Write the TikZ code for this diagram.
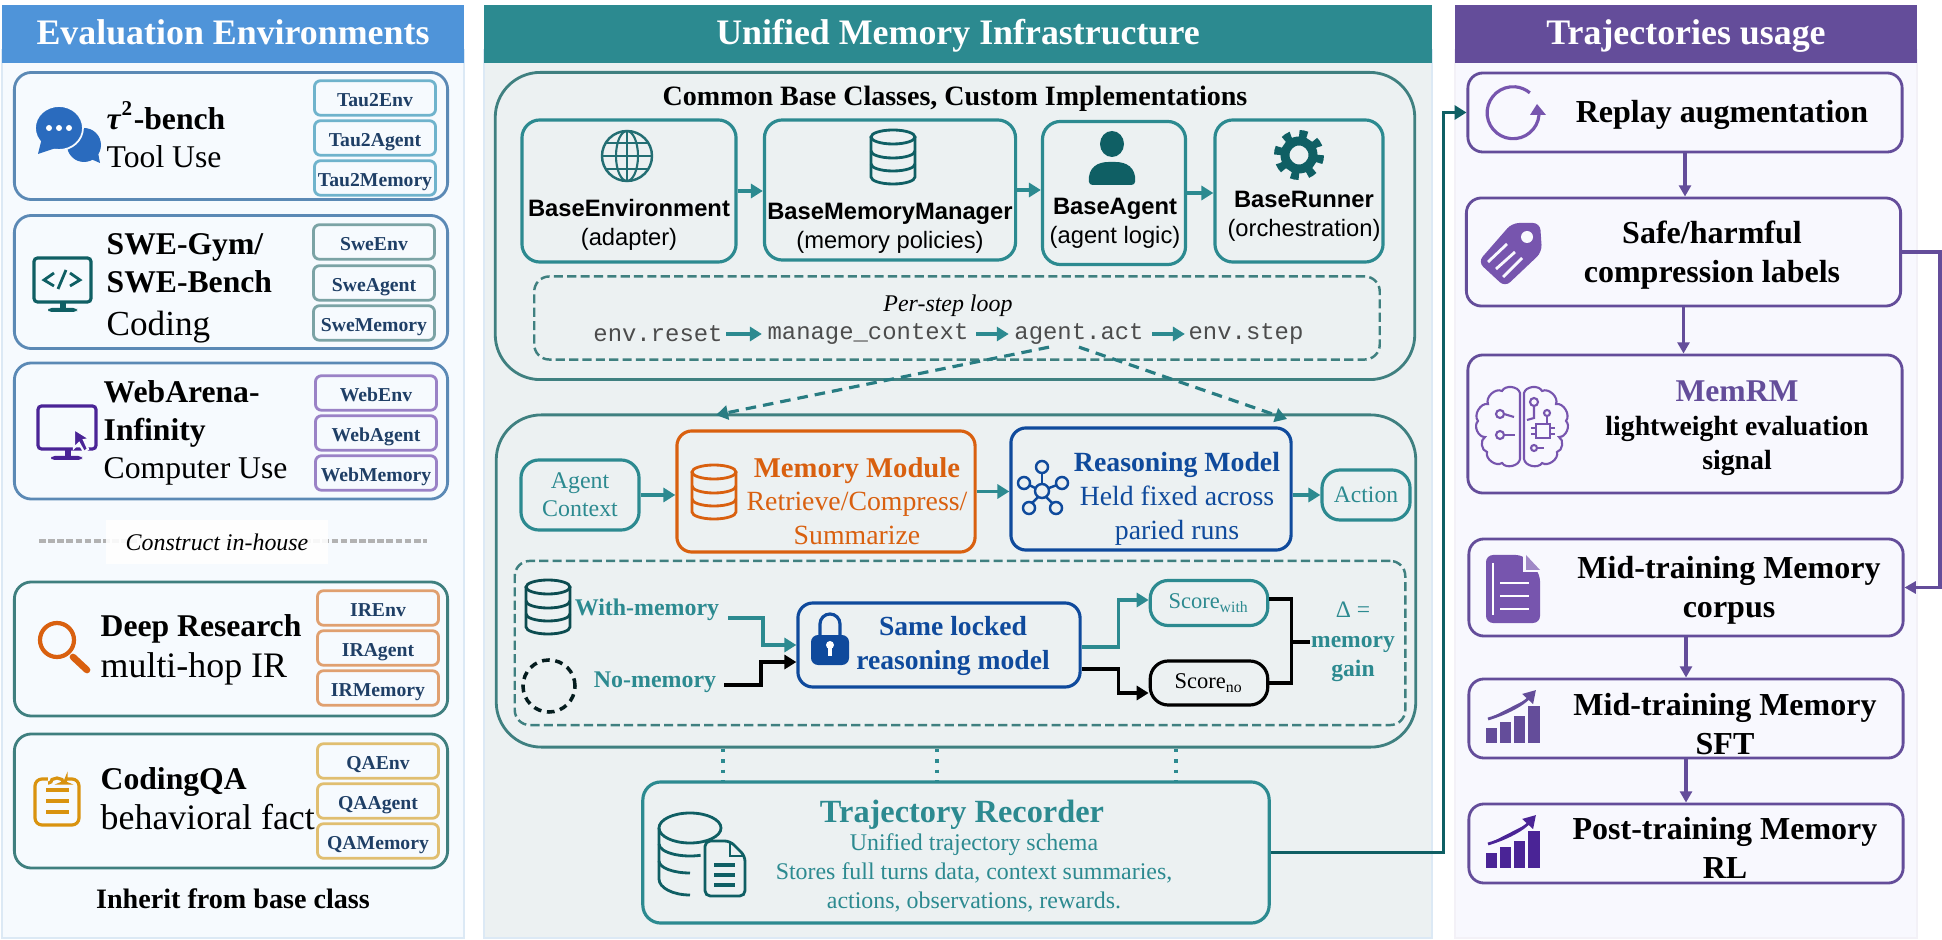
\documentclass[tikz,border=0pt]{standalone}
\usepackage{fontspec}
\setmainfont{Liberation Serif}
\setsansfont{Liberation Sans}
\setmonofont{Liberation Mono}
\usetikzlibrary{arrows.meta}
\newcommand{\pxfont}[2]{\fontsize{#1}{#2}\selectfont}
\definecolor{leftblue}{RGB}{79,148,217}
\definecolor{leftbg}{RGB}{246,250,254}
\definecolor{leftline}{RGB}{220,233,245}
\definecolor{cardblue}{RGB}{91,137,181}
\definecolor{cardgreen}{RGB}{63,127,127}
\definecolor{midteal}{RGB}{44,138,144}
\definecolor{midbg}{RGB}{236,241,242}
\definecolor{boxteal}{RGB}{63,128,128}
\definecolor{darkteal}{RGB}{15,95,100}
\definecolor{rightpurple}{RGB}{100,77,154}
\definecolor{rightbg}{RGB}{248,248,254}
\definecolor{iconpurple}{RGB}{119,85,174}
\definecolor{deeppurple}{RGB}{74,36,150}
\definecolor{memorange}{RGB}{217,96,15}
\definecolor{modelblue}{RGB}{15,74,156}
\definecolor{navytext}{RGB}{31,63,102}
\definecolor{tauline}{RGB}{111,179,204}
\definecolor{sweline}{RGB}{123,163,165}
\definecolor{webline}{RGB}{154,130,198}
\definecolor{irline}{RGB}{224,160,112}
\definecolor{qaline}{RGB}{224,190,112}
\definecolor{clipgold}{RGB}{217,147,15}
\definecolor{chatblue}{RGB}{42,107,190}
\tikzstyle{panel} = [rectangle, line width=0.6pt, inner sep=0pt]
\tikzstyle{header} = [rectangle, inner sep=0pt, text=white, text height=0.25cm, text depth=0.03cm, font=\pxfont{10.2}{12}\bfseries]
\tikzstyle{card} = [rectangle, rounded corners=0.17cm, line width=0.8pt, fill=leftbg, inner sep=0pt, minimum width=4.33cm]
\tikzstyle{cardtext} = [anchor=west, align=left, inner sep=0pt, font=\pxfont{9}{10.8}]
\tikzstyle{smallbox} = [rectangle, rounded corners=0.06cm, line width=0.8pt, fill=leftbg, inner sep=0pt, minimum width=1.21cm, minimum height=0.345cm, text height=0.2cm, text depth=0.03cm, text=navytext, font=\pxfont{5.6}{7}\bfseries]
\tikzstyle{bigbox} = [rectangle, rounded corners=0.45cm, line width=0.8pt, draw=boxteal, inner sep=0pt]
\tikzstyle{basebox} = [rectangle, rounded corners=0.18cm, line width=0.9pt, draw=midteal, inner sep=0pt]
\tikzstyle{loopbox} = [rectangle, rounded corners=0.15cm, line width=0.7pt, draw=boxteal, dash pattern=on 2.6pt off 1.2pt, inner sep=0pt]
\tikzstyle{basetext} = [inner sep=0pt, align=center, font=\sffamily\pxfont{6.75}{8.3}]
\tikzstyle{modelbox} = [rectangle, rounded corners=0.15cm, line width=0.9pt, inner sep=0pt]
\tikzstyle{plain} = [inner sep=0pt, align=center]
\tikzstyle{usebox} = [rectangle, rounded corners=0.15cm, line width=0.8pt, draw=rightpurple, fill=rightbg, inner sep=0pt, minimum width=4.34cm]
\tikzstyle{usetext} = [inner sep=0pt, align=center, font=\pxfont{9.1}{11.2}\bfseries]
\tikzstyle{tealarrow} = [line width=1pt, color=midteal, -{Triangle[length=3.4pt,width=4pt]}]
\tikzstyle{blackarrow} = [line width=1pt, color=black, -{Triangle[length=3.4pt,width=4pt]}]
\tikzstyle{purplearrow} = [line width=0.9pt, color=rightpurple, -{Triangle[length=3.2pt,width=3.4pt]}]
\tikzstyle{dasharrow} = [line width=0.9pt, color=midteal!90!black, dash pattern=on 3pt off 2pt, -{Triangle[length=3.4pt,width=4pt]}]
\tikzstyle{dotline} = [line width=1pt, color=midteal, dotted]
\tikzset{
  dbicon/.pic={
    \draw[pic actions] (0,-20) ellipse (22 and 7);
    \draw[pic actions] (-22,-20) -- (-22,20) arc[start angle=180,end angle=0,x radius=22,y radius=7] -- (22,-20);
    \draw[pic actions] (-22,-6) arc[start angle=180,end angle=0,x radius=22,y radius=7];
    \draw[pic actions] (-22,7) arc[start angle=180,end angle=0,x radius=22,y radius=7];
  },
  chartup/.pic={
    \fill[pic actions] (-26,26) rectangle (-17,13);
    \fill[pic actions] (-12,26) rectangle (-3,7);
    \fill[pic actions] (2,26) rectangle (11,1);
    \fill[pic actions] (16,26) rectangle (26,-9);
    \draw[pic actions, line width=0.8pt, -{Triangle[length=3.5pt,width=4pt]}] (-25,3) .. controls (-5,-3) and (10,-12) .. (23,-26);
  },
  chaticon/.pic={
    \fill[chatblue] (16,15) circle (17);
    \fill[chatblue] (32,33) -- (16,26) -- (28,12) -- cycle;
    \fill[chatblue, draw=leftbg, line width=0.5pt] (-9,-2) ellipse (24 and 22);
    \fill[chatblue] (-30,24) -- (-26,8) -- (-12,18) -- cycle;
    \fill[white] (-19,-2) circle (3);
    \fill[white] (-9,-2) circle (3);
    \fill[white] (1,-2) circle (3);
  },
  codemonitor/.pic={
    \draw[darkteal, line width=0.9pt, rounded corners=1pt] (-28,-21) rectangle (29,23);
    \fill[darkteal] (-2,23) rectangle (4,31);
    \fill[darkteal, rounded corners=1pt] (-14,29) rectangle (15,33);
    \draw[darkteal, line width=0.8pt] (-8,-6) -- (-18,1) -- (-8,7);
    \draw[darkteal, line width=0.8pt] (4,-9) -- (-4,10);
    \draw[darkteal, line width=0.8pt] (8,-6) -- (18,1) -- (8,7);
  },
  cursormonitor/.pic={
    \draw[deeppurple, line width=0.9pt, rounded corners=1pt] (-29,-21) rectangle (29,22);
    \fill[deeppurple] (-2,22) rectangle (4,30);
    \fill[deeppurple, rounded corners=1pt] (-16,29) rectangle (15,33);
    \fill[deeppurple, draw=leftbg, line width=0.6pt] (7,2) -- (7,21) -- (12,16) -- (17,25) -- (21,22) -- (17,13) -- (23,12) -- cycle;
  },
  lensicon/.pic={
    \draw[memorange, line width=1.2pt] (-4,-6) circle (17);
    \draw[memorange, line width=1.9pt, line cap=round] (12,11) -- (26,24);
  },
  clipicon/.pic={
    \draw[clipgold, line width=0.9pt, rounded corners=2pt] (-22,-19) rectangle (22,27);
    \fill[leftbg] (-9,-21) rectangle (9,-14);
    \draw[clipgold, line width=0.9pt, rounded corners=1pt] (-9,-15) -- (-5,-15) arc[start angle=180,end angle=360,radius=5] -- (9,-15) -- (9,-18);
    \draw[clipgold, line width=0.9pt] (-11,-8) -- (12,-8);
    \draw[clipgold, line width=0.9pt] (-11,3) -- (12,3);
    \draw[clipgold, line width=0.9pt] (-11,14) -- (12,14);
  },
  globeicon/.pic={
    \draw[midteal!80!black, line width=0.7pt] (0,0) circle (25);
    \draw[midteal!80!black, line width=0.6pt] (0,0) ellipse (11 and 25);
    \draw[midteal!80!black, line width=0.6pt] (0,-25) -- (0,25);
    \draw[midteal!80!black, line width=0.6pt] (-25,0) -- (25,0);
    \draw[midteal!80!black, line width=0.6pt] (-21,-13) -- (21,-13);
    \draw[midteal!80!black, line width=0.6pt] (-21,13) -- (21,13);
  },
  personicon/.pic={
    \fill[darkteal] (0,-15) ellipse (12 and 13);
    \fill[darkteal, rounded corners=1pt] (-23,26) .. controls (-24,8) and (-14,3) .. (0,3) .. controls (14,3) and (24,8) .. (23,26) -- cycle;
  },
  gearicon/.pic={
    \draw[darkteal, line width=0.08cm, dash pattern=on 0.08cm off 0.085cm] (0,0) circle (21);
    \draw[darkteal, line width=0.09cm] (0,0) circle (14);
  },
  netwicon/.pic={
    \draw[modelblue, line width=0.7pt] (0,0) circle (7);
    \draw[modelblue, line width=0.7pt] (0,-24) circle (6);
    \draw[modelblue, line width=0.7pt] (-18,-8) circle (6);
    \draw[modelblue, line width=0.7pt] (20,-8) circle (6);
    \draw[modelblue, line width=0.7pt] (-13,17) circle (6);
    \draw[modelblue, line width=0.7pt] (14,17) circle (6);
    \draw[modelblue, line width=0.7pt] (0,-7) -- (0,-18);
    \draw[modelblue, line width=0.7pt] (-7,-3) -- (-13,-6);
    \draw[modelblue, line width=0.7pt] (7,-3) -- (15,-6);
    \draw[modelblue, line width=0.7pt] (-4,6) -- (-10,12);
    \draw[modelblue, line width=0.7pt] (4,6) -- (10,12);
  },
  lockicon/.pic={
    \draw[modelblue, line width=0.9pt] (-10,-3) -- (-10,-16) arc[start angle=180,end angle=360,radius=10] -- (10,-3);
    \fill[modelblue, rounded corners=2pt] (-19,-5) rectangle (19,25);
    \fill[white] (0,5) circle (4);
    \fill[white] (-2,5) rectangle (2,16);
  },
  recicon/.pic={
    \draw[darkteal, line width=0.8pt] (0,-26) ellipse (31 and 15);
    \draw[darkteal, line width=0.8pt] (-31,-26) -- (-31,25) arc[start angle=180,end angle=90,x radius=31,y radius=16];
    \draw[darkteal, line width=0.8pt] (-31,-10) arc[start angle=180,end angle=70,x radius=31,y radius=12];
    \draw[darkteal, line width=0.8pt] (-31,7) arc[start angle=180,end angle=90,x radius=31,y radius=12];
    \fill[midbg, draw=darkteal, line width=0.8pt, rounded corners=1.5pt] (15,-13) -- (40,-13) -- (55,2) -- (55,42) -- (15,42) -- cycle;
    \draw[darkteal, line width=0.7pt] (40,-13) -- (40,2) -- (55,2);
    \draw[darkteal, line width=1pt] (24,11) -- (45,11);
    \draw[darkteal, line width=1pt] (24,21) -- (45,21);
    \draw[darkteal, line width=1pt] (24,31) -- (45,31);
  },
  replayicon/.pic={
    \draw[iconpurple, line width=0.9pt] (24,2) arc[start angle=5,end angle=310,radius=26];
    \fill[iconpurple] (15,2) -- (31,2) -- (22,-9) -- cycle;
  },
  tagicon/.pic={
    \fill[iconpurple, rounded corners=2pt] (-32,9) -- (-5,34) -- (32,-1) -- (30,-30) -- (2,-30) -- cycle;
    \fill[rightbg] (17,-16) circle (6);
    \draw[rightbg, line width=0.8pt] (-22,9) -- (-3,-9);
    \draw[rightbg, line width=0.8pt] (-14,16) -- (5,-1);
    \draw[rightbg, line width=0.8pt] (-7,24) -- (12,5);
  },
  brainicon/.pic={
    \draw[iconpurple, line width=0.6pt] (-2,-33) to[bend right=70] (-20,-35) to[bend right=70] (-34,-22) to[bend right=70] (-44,-5) to[bend right=70] (-37,11) to[bend right=70] (-35,26) to[bend right=70] (-20,37) to[bend right=70] (-2,33) -- cycle;
    \draw[iconpurple, line width=0.6pt] (2,-33) to[bend left=70] (20,-35) to[bend left=70] (34,-22) to[bend left=70] (44,-5) to[bend left=70] (37,11) to[bend left=70] (35,26) to[bend left=70] (20,37) to[bend left=70] (2,33) -- cycle;
    \draw[iconpurple, line width=0.6pt] (-22,-12) circle (4);
    \draw[iconpurple, line width=0.6pt] (-18,-12) -- (-8,-9);
    \draw[iconpurple, line width=0.6pt] (-22,9) circle (4);
    \draw[iconpurple, line width=0.6pt] (-18,9) -- (-7,9);
    \draw[iconpurple, line width=0.6pt] (12,-24) circle (4);
    \draw[iconpurple, line width=0.6pt] (12,-20) -- (12,-8) -- (5,-6);
    \draw[iconpurple, line width=0.6pt] (25,-13) circle (3);
    \draw[iconpurple, line width=0.6pt] (25,-10) -- (25,-3);
    \draw[iconpurple, line width=0.6pt] (14,-2) rectangle (28,12);
    \draw[iconpurple, line width=0.6pt] (9,2) -- (14,2);
    \draw[iconpurple, line width=0.6pt] (9,8) -- (14,8);
    \draw[iconpurple, line width=0.6pt] (28,2) -- (33,2);
    \draw[iconpurple, line width=0.6pt] (28,8) -- (33,8);
    \draw[iconpurple, line width=0.6pt] (12,22) circle (3);
    \draw[iconpurple, line width=0.6pt] (15,22) -- (22,22);
  },
  docicon/.pic={
    \fill[iconpurple, rounded corners=2pt] (-27,-34) -- (10,-34) -- (27,-15) -- (27,34) -- (-27,34) -- cycle;
    \fill[rightbg] (10,-35) -- (10,-17) -- (28,-17) -- (28,-35) -- cycle;
    \fill[iconpurple!70] (13,-34) -- (13,-19) -- (27,-19) -- cycle;
    \draw[white, line width=0.6pt] (-20,-26) -- (-20,26);
    \draw[white, line width=0.7pt] (-13,-6) -- (16,-6);
    \draw[white, line width=0.7pt] (-13,7) -- (16,7);
    \draw[white, line width=0.7pt] (-13,20) -- (16,20);
  }
}
\begin{document}
\begin{tikzpicture}[x=0.01cm, y=-0.01cm]
\useasboundingbox (0,0) rectangle (1942,940);

% Panels
\node[panel, draw=leftline, fill=leftbg, minimum width=4.62cm, minimum height=8.88cm] (left_panel) at (233,494) {};
\node[panel, draw=leftline, fill=midbg, minimum width=9.48cm, minimum height=8.88cm] (mid_panel) at (958,494) {};
\node[panel, draw=rightpurple!8, fill=rightbg, minimum width=4.62cm, minimum height=8.88cm] (right_panel) at (1686,494) {};
\node[header, fill=leftblue, minimum width=4.62cm, minimum height=0.58cm] (left_head) at (233,34) {Evaluation Environments};
\node[header, fill=midteal, minimum width=9.48cm, minimum height=0.58cm] (mid_head) at (958,34) {Unified Memory Infrastructure};
\node[header, fill=rightpurple, minimum width=4.62cm, minimum height=0.58cm] (right_head) at (1686,34) {Trajectories usage};

% Evaluation cards
\node[card, draw=cardblue, minimum height=1.27cm] (tau_card) at (231,136) {};
\pic at (68,130) {chaticon};
\node[cardtext] (tau_text) at (106,134.5) {\textbf{\textit{τ}\textsuperscript{2}-bench}\\Tool Use};
\node[smallbox, draw=tauline] (tau_env) at (375,98) {Tau2Env};
\node[smallbox, draw=tauline] (tau_agent) at (375,138) {Tau2Agent};
\node[smallbox, draw=tauline] (tau_mem) at (375,178) {Tau2Memory};

\node[card, draw=cardblue, minimum height=1.33cm] (swe_card) at (231,282) {};
\pic at (62,279) {codemonitor};
\node[cardtext] (swe_text) at (106,288) {\textbf{SWE-Gym/}\\\textbf{SWE-Bench}\\[1.4pt]{\pxfont{10}{10.8}Coding}};
\node[smallbox, draw=sweline] (swe_env) at (374,242) {SweEnv};
\node[smallbox, draw=sweline] (swe_agent) at (374,283) {SweAgent};
\node[smallbox, draw=sweline] (swe_mem) at (374,323) {SweMemory};

\node[card, draw=cardblue, minimum height=1.36cm] (web_card) at (231,431) {};
\pic at (67,427) {cursormonitor};
\node[cardtext] (web_text) at (103,433) {\textbf{WebArena-}\\\textbf{Infinity}\\Computer Use};
\node[smallbox, draw=webline] (web_env) at (376,393) {WebEnv};
\node[smallbox, draw=webline] (web_agent) at (376,433) {WebAgent};
\node[smallbox, draw=webline] (web_mem) at (376,473) {WebMemory};

% Construct in-house divider
\coordinate (div_left) at (39,541);
\coordinate (div_right) at (427,541);
\draw[line width=0.9pt, color=black!30, dash pattern=on 1.9pt off 0.7pt] (div_left) -- (div_right);
\node[plain, fill=white, fill opacity=0.9, text opacity=1, minimum width=2.21cm, minimum height=0.44cm, font=\pxfont{6.8}{8}\itshape] (div_text) at (217,542) {Construct in-house};

\node[card, draw=cardgreen, minimum height=1.34cm] (ir_card) at (231,649) {};
\pic at (61,646) {lensicon};
\node[cardtext] (ir_text) at (100,650) {\textbf{Deep Research}\\[0.8pt]{\pxfont{10.2}{10.8}multi-hop IR}};
\node[smallbox, draw=irline] (ir_env) at (378,608) {IREnv};
\node[smallbox, draw=irline] (ir_agent) at (378,648) {IRAgent};
\node[smallbox, draw=irline] (ir_mem) at (378,688) {IRMemory};

\node[card, draw=cardgreen, minimum height=1.34cm] (qa_card) at (231,801) {};
\pic at (57,798) {clipicon};
\node[cardtext] (qa_text) at (100,799) {\textbf{CodingQA}\\[0.6pt]{\pxfont{10.2}{10.8}behavioral fact}};
\node[smallbox, draw=qaline] (qa_env) at (378,761) {QAEnv};
\node[smallbox, draw=qaline] (qa_agent) at (378,801) {QAAgent};
\node[smallbox, draw=qaline] (qa_mem) at (378,841) {QAMemory};

\node[plain, font=\pxfont{8}{10}\bfseries] (inherit_text) at (233,899) {Inherit from base class};

% Base classes
\node[bigbox, minimum width=9.19cm, minimum height=3.07cm] (base_box) at (955,226) {};
\node[plain, font=\pxfont{7.97}{10}\bfseries] (base_title) at (955,99) {Common Base Classes, Custom Implementations};
\node[basebox, minimum width=2.14cm, minimum height=1.42cm] (env_base) at (629,191) {};
\pic at (627,156) {globeicon};
\node[basetext] (env_text) at (629,225) {\textbf{BaseEnvironment}\\(adapter)};
\node[basebox, minimum width=2.51cm, minimum height=1.40cm] (mem_base) at (890,190) {};
\pic[draw=darkteal, line width=0.8pt] at (893,157) {dbicon};
\node[basetext] (mem_text) at (890,228) {\textbf{BaseMemoryManager}\\(memory policies)};
\node[basebox, minimum width=1.43cm, minimum height=1.43cm] (agent_base) at (1114,193) {};
\pic at (1112,159) {personicon};
\node[basetext] (agent_text) at (1115,223) {\textbf{BaseAgent}\\(agent logic)};
\node[basebox, minimum width=1.68cm, minimum height=1.42cm] (runner_base) at (1299,191) {};
\pic at (1299,155) {gearicon};
\node[basetext] (runner_text) at (1304,216) {\textbf{BaseRunner}\\(orchestration)};

\draw[tealarrow] (env_base.east) -- (mem_base.west |- env_base.east);
\draw[tealarrow] (mem_base.east) -- (agent_base.west |- mem_base.east);
\draw[tealarrow] (agent_base.east) -- (runner_base.west |- agent_base.east);

% Per-step loop
\node[loopbox, minimum width=8.45cm, minimum height=0.83cm] (loop_box) at (957,318) {};
\node[plain, font=\pxfont{6.8}{8}\itshape] (loop_title) at (948,306) {Per-step loop};
\node[plain, font=\ttfamily\pxfont{6.8}{8}, text=black!70] (loop_reset) at (658,334) {env.reset};
\node[plain, font=\ttfamily\pxfont{6.8}{8}, text=black!70] (loop_manage) at (868,334) {manage\_context};
\node[plain, font=\ttfamily\pxfont{6.8}{8}, text=black!70] (loop_act) at (1079,334) {agent.act};
\node[plain, font=\ttfamily\pxfont{6.8}{8}, text=black!70] (loop_step) at (1246,334) {env.step};
\draw[tealarrow] ([xshift=0.03cm]loop_reset.east) -- ([xshift=-0.05cm]loop_manage.west);
\draw[tealarrow] ([xshift=0.07cm]loop_manage.east) -- ([xshift=-0.05cm]loop_act.west);
\draw[tealarrow] ([xshift=0.08cm]loop_act.east) -- ([xshift=-0.03cm]loop_step.west);

% Paired runs
\node[bigbox, minimum width=9.19cm, minimum height=3.32cm] (pair_box) at (956,581) {};
\coordinate (pair_left) at (716,415);
\coordinate (pair_right) at (1287,419);
\draw[dasharrow] ([xshift=-0.3cm,yshift=-0.02cm]loop_act.south) -- (pair_left);
\draw[dasharrow] ([yshift=-0.02cm]loop_act.south) -- (pair_right);

\node[basebox, minimum width=1.18cm, minimum height=0.70cm, text=midteal, align=center, font=\pxfont{6.8}{8}] (agent_ctx) at (580,495) {Agent\\Context};
\node[modelbox, draw=memorange, minimum width=2.98cm, minimum height=1.21cm] (mem_module) at (826,491.5) {};
\pic[draw=memorange, line width=0.8pt] at (714,492) {dbicon};
\node[plain, text=memorange, font=\pxfont{7.9}{9.6}] (mem_text2) at (857,501) {{\pxfont{8.15}{9.6}\bfseries Memory Module}\\Retrieve/Compress/\\Summarize};
\node[modelbox, draw=modelblue, minimum width=2.80cm, minimum height=1.22cm] (reason_model) at (1151,489) {};
\pic at (1042,491) {netwicon};
\node[plain, text=modelblue, font=\pxfont{7.9}{9.6}] (reason_text) at (1177,499) {\textbf{Reasoning Model}\\Held fixed across\\paried runs};
\node[basebox, minimum width=0.88cm, minimum height=0.50cm, text=midteal, font=\pxfont{6.7}{8}] (action_box) at (1366,495) {Action};
\draw[tealarrow] (agent_ctx.east) -- (mem_module.west |- agent_ctx.east);
\draw[tealarrow] (mem_module.east) -- (reason_model.west |- mem_module.east);
\draw[tealarrow] (reason_model.east |- action_box.west) -- (action_box.west);

% Same locked model comparison
\node[loopbox, minimum width=8.90cm, minimum height=1.64cm] (cmp_box) at (960,643) {};
\pic[draw=darkteal!80!black, line width=0.8pt] at (548,607) {dbicon};
\node[plain, text=midteal, font=\pxfont{6.8}{8}\bfseries] (with_text) at (647,610) {With-memory};
\node[circle, draw=black!70!darkteal, line width=1pt, dash pattern=on 2.2pt off 1.6pt, minimum size=0.52cm, inner sep=0pt] (no_circle) at (549,686) {};
\node[plain, text=midteal, font=\pxfont{6.8}{8}\bfseries] (no_text) at (655,682) {No-memory};
\node[modelbox, draw=modelblue, minimum width=2.82cm, minimum height=0.84cm] (lock_box) at (939,645) {};
\pic at (830,640) {lockicon};
\node[plain, text=modelblue, font=\pxfont{7.85}{9.6}\bfseries] (lock_text) at (953,646) {Same locked\\reasoning model};
\node[basebox, minimum width=1.175cm, minimum height=0.45cm, text=midteal, font=\pxfont{6.4}{8}] (score_with) at (1209,603) {Score\textsubscript{with}};
\node[basebox, draw=black, minimum width=1.175cm, minimum height=0.44cm, font=\pxfont{6.4}{8}] (score_no) at (1209,683) {Score\textsubscript{no}};
\node[plain, text=midteal, font=\pxfont{6.7}{8.3}] (gain_text) at (1353,642) {Δ =\\\textbf{memory}\\\textbf{gain}};
\coordinate (with_out) at (728,618);
\coordinate (no_out) at (724,685);
\coordinate (gain_join) at (1290,642);
\draw[tealarrow] (with_out) -- ++(35,0) |- (lock_box.west);
\draw[blackarrow] (no_out) -- ++(37,0) |- ([yshift=-0.17cm]lock_box.west);
\draw[tealarrow] ([yshift=-0.02cm]lock_box.east) -- ++(37,0) |- ([yshift=0.03cm]score_with.west);
\draw[blackarrow] ([yshift=-0.24cm]lock_box.east) -- ++(37,0) |- ([yshift=-0.10cm]score_no.west);
\draw[line width=1pt, color=black] ([yshift=0.04cm]score_with.east) -- ++(22,0) |- (score_no.east);
\draw[line width=1pt, color=black] (gain_join) -- (gain_text.west |- gain_join);

% Trajectory recorder
\node[basebox, fill=midbg, minimum width=6.26cm, minimum height=1.41cm] (recorder) at (956,852.5) {};
\pic at (690,854) {recicon};
\node[plain, text=midteal, font=\pxfont{9.2}{11}\bfseries] (rec_title) at (962,815) {Trajectory Recorder};
\node[plain, text=midteal, font=\pxfont{6.8}{8.3}] (rec_text) at (974,873) {Unified trajectory schema\\Stores full turns data, context summaries,\\actions, observations, rewards.};
\draw[dotline] (pair_box.south -| 723,0) -- (recorder.north -| 723,0);
\draw[dotline] (pair_box.south -| 937,0) -- (recorder.north -| 937,0);
\draw[dotline] (pair_box.south -| 1176,0) -- (recorder.north -| 1176,0);

% Trajectories usage
\node[usebox, minimum height=0.79cm] (replay) at (1685,112.5) {};
\pic at (1515,113) {replayicon};
\node[usetext] (replay_text) at (1722,115) {Replay augmentation};
\node[usebox, minimum height=1.08cm] (safe) at (1683.5,252) {};
\pic at (1510,253) {tagicon};
\node[usetext] (safe_text) at (1712,255) {Safe/harmful\\compression labels};
\node[usebox, minimum height=1.38cm] (memrm) at (1685,424) {};
\pic at (1522,426) {brainicon};
\node[plain, font=\pxfont{7.9}{9.7}\bfseries] (memrm_text) at (1737,428.5) {{\pxfont{9}{9.7}\color{rightpurple}MemRM}\\lightweight evaluation\\signal};
\node[usebox, minimum height=0.97cm] (corpus) at (1686,587.5) {};
\pic at (1513,589) {docicon};
\node[usetext] (corpus_text) at (1729,590) {Mid-training Memory\\corpus};
\node[usebox, minimum height=0.79cm] (sft) at (1686,718.5) {};
\pic[fill=rightpurple, draw=rightpurple] at (1513,716) {chartup};
\node[usetext] (sft_text) at (1725,724) {Mid-training Memory\\SFT};
\node[usebox, minimum height=0.79cm] (post) at (1686,843.5) {};
\pic[fill=deeppurple, draw=deeppurple] at (1513,841) {chartup};
\node[usetext] (post_text) at (1725,848) {Post-training Memory\\RL};

\draw[purplearrow] (replay.south) -- (safe.north -| replay.south);
\draw[purplearrow] (safe.south) -- (memrm.north -| safe.south);
\draw[purplearrow] (corpus.south) -- (sft.north -| corpus.south);
\draw[purplearrow] (sft.south) -- (post.north -| sft.south);
\draw[purplearrow] (safe.east) -- ++(38,0) |- (corpus.east);
\draw[line width=0.9pt, color=darkteal, -{Triangle[length=3.4pt,width=4pt]}] (recorder.east) -- ++(173,0) |- (replay.west);

\end{tikzpicture}
\end{document}
